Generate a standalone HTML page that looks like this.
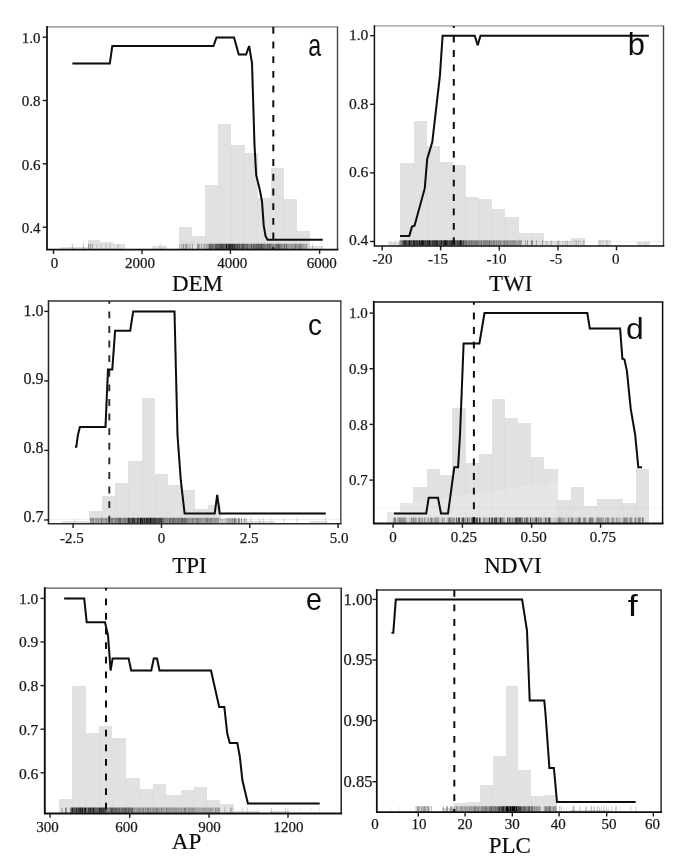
<!DOCTYPE html>
<html><head><meta charset="utf-8"><title>Figure</title>
<style>
html,body{margin:0;padding:0;background:#fff;}
body{width:685px;height:866px;overflow:hidden;}
svg{display:block;}
.tk text{font-family:"Liberation Serif","Times New Roman",serif;font-size:15px;fill:#1a1a1a;stroke:#1a1a1a;stroke-width:0.25px;}
.xl{font-family:"Liberation Serif","Times New Roman",serif;font-size:23px;fill:#111;stroke:#111;stroke-width:0.2px;}
.lt{font-family:"Liberation Sans",Arial,sans-serif;font-size:30px;fill:#111;}
</style></head><body>
<svg width="685" height="866" viewBox="0 0 685 866">
<defs><filter id="soft" x="0" y="0" width="100%" height="100%" filterUnits="userSpaceOnUse"><feGaussianBlur stdDeviation="0.45"/></filter></defs>
<rect width="685" height="866" fill="#fff"/>
<g filter="url(#soft)">
<g>
<g fill="#e1e1e1" shape-rendering="crispEdges">
<rect x="60.0" y="246.5" width="27.5" height="3.1"/>
<rect x="87.5" y="240.0" width="12.5" height="9.6"/>
<rect x="100.0" y="242.0" width="12.5" height="7.6"/>
<rect x="112.5" y="244.0" width="12.5" height="5.6"/>
<rect x="152.0" y="245.5" width="15.0" height="4.1"/>
<rect x="179.0" y="227.0" width="13.0" height="22.6"/>
<rect x="192.0" y="236.0" width="13.2" height="13.6"/>
<rect x="205.2" y="185.2" width="13.1" height="64.4"/>
<rect x="218.3" y="123.5" width="13.1" height="126.1"/>
<rect x="231.4" y="144.5" width="13.1" height="105.1"/>
<rect x="244.5" y="152.5" width="13.1" height="97.1"/>
<rect x="257.6" y="197.5" width="13.1" height="52.1"/>
<rect x="270.7" y="167.5" width="13.1" height="82.1"/>
<rect x="283.8" y="198.5" width="13.1" height="51.1"/>
<rect x="296.9" y="231.0" width="13.1" height="18.6"/>
<rect x="310.0" y="245.5" width="13.0" height="4.1"/>
</g>
<g stroke="#000" stroke-opacity="0.03" stroke-width="0.8">
<line x1="192.0" x2="192.0" y1="236.0" y2="249.6"/>
<line x1="205.2" x2="205.2" y1="236.0" y2="249.6"/>
<line x1="218.3" x2="218.3" y1="185.2" y2="249.6"/>
<line x1="231.4" x2="231.4" y1="144.5" y2="249.6"/>
<line x1="244.5" x2="244.5" y1="152.5" y2="249.6"/>
<line x1="257.6" x2="257.6" y1="197.5" y2="249.6"/>
<line x1="270.7" x2="270.7" y1="197.5" y2="249.6"/>
<line x1="283.8" x2="283.8" y1="198.5" y2="249.6"/>
<line x1="296.9" x2="296.9" y1="231.0" y2="249.6"/>
</g>
<g stroke="#000" stroke-width="1.05" fill="none"><path d="M182.5 243.8V248.9M184.5 243.8V248.9M188.5 243.8V248.9M200.5 243.8V248.9M202.5 243.8V248.9M309.5 243.8V248.9M321.5 243.8V248.9M163 243.8V248.9" stroke-opacity="0.08"/><path d="M179.5 243.8V248.9M187.5 243.8V248.9M189.5 243.8V248.9M190.5 243.8V248.9M203.5 243.8V248.9M205.5 243.8V248.9M307.5 243.8V248.9M312.5 243.8V248.9M97 243.8V248.9M101 243.8V248.9M106 243.8V248.9M110 243.8V248.9M118 243.8V248.9M160 243.8V248.9" stroke-opacity="0.17"/><path d="M181.5 243.8V248.9M185.5 243.8V248.9M192.5 243.8V248.9M199.5 243.8V248.9M201.5 243.8V248.9M204.5 243.8V248.9M206.5 243.8V248.9M207.5 243.8V248.9M289.5 243.8V248.9M293.5 243.8V248.9M303.5 243.8V248.9M304.5 243.8V248.9M305.5 243.8V248.9M306.5 243.8V248.9M72.3 243.8V248.9M83.4 243.8V248.9" stroke-opacity="0.25"/><path d="M183.5 243.8V248.9M186.5 243.8V248.9M197.5 243.8V248.9M198.5 243.8V248.9M208.5 243.8V248.9M274.5 243.8V248.9M282.5 243.8V248.9M283.5 243.8V248.9M285.5 243.8V248.9M287.5 243.8V248.9M288.5 243.8V248.9M290.5 243.8V248.9M291.5 243.8V248.9M292.5 243.8V248.9M296.5 243.8V248.9M297.5 243.8V248.9M298.5 243.8V248.9M301.5 243.8V248.9M302.5 243.8V248.9M88.5 243.8V248.9M90.3 243.8V248.9M92.4 243.8V248.9" stroke-opacity="0.33"/><path d="M211.5 243.8V248.9M213.5 243.8V248.9M214.5 243.8V248.9M240.5 243.8V248.9M248.5 243.8V248.9M249.5 243.8V248.9M250.5 243.8V248.9M252.5 243.8V248.9M265.5 243.8V248.9M266.5 243.8V248.9M268.5 243.8V248.9M271.5 243.8V248.9M272.5 243.8V248.9M273.5 243.8V248.9M275.5 243.8V248.9M280.5 243.8V248.9M281.5 243.8V248.9M294.5 243.8V248.9M295.5 243.8V248.9M299.5 243.8V248.9M300.5 243.8V248.9" stroke-opacity="0.42"/><path d="M209.5 243.8V248.9M238.5 243.8V248.9M244.5 243.8V248.9M245.5 243.8V248.9M246.5 243.8V248.9M254.5 243.8V248.9M255.5 243.8V248.9M257.5 243.8V248.9M260.5 243.8V248.9M262.5 243.8V248.9M263.5 243.8V248.9M264.5 243.8V248.9M270.5 243.8V248.9M276.5 243.8V248.9M277.5 243.8V248.9M279.5 243.8V248.9M284.5 243.8V248.9M286.5 243.8V248.9" stroke-opacity="0.50"/><path d="M210.5 243.8V248.9M212.5 243.8V248.9M215.5 243.8V248.9M216.5 243.8V248.9M217.5 243.8V248.9M218.5 243.8V248.9M219.5 243.8V248.9M221.5 243.8V248.9M223.5 243.8V248.9M224.5 243.8V248.9M225.5 243.8V248.9M227.5 243.8V248.9M233.5 243.8V248.9M235.5 243.8V248.9M236.5 243.8V248.9M241.5 243.8V248.9M242.5 243.8V248.9M247.5 243.8V248.9M251.5 243.8V248.9M253.5 243.8V248.9M256.5 243.8V248.9M258.5 243.8V248.9M259.5 243.8V248.9M267.5 243.8V248.9M269.5 243.8V248.9M278.5 243.8V248.9" stroke-opacity="0.58"/><path d="M220.5 243.8V248.9M237.5 243.8V248.9M239.5 243.8V248.9M243.5 243.8V248.9M261.5 243.8V248.9" stroke-opacity="0.67"/><path d="M222.5 243.8V248.9M228.5 243.8V248.9M230.5 243.8V248.9M231.5 243.8V248.9" stroke-opacity="0.75"/><path d="M229.5 243.8V248.9M232.5 243.8V248.9M234.5 243.8V248.9" stroke-opacity="0.83"/><path d="M226.5 243.8V248.9" stroke-opacity="0.92"/></g>
<line x1="47.0" x2="338.2" y1="26.8" y2="26.8" stroke="#888" stroke-width="1.3"/>
<line x1="337.5" x2="337.5" y1="26.8" y2="249.6" stroke="#444" stroke-width="1.4"/>
<line x1="273.3" x2="273.3" y1="26.8" y2="249.6" stroke="#111" stroke-width="2.0" stroke-dasharray="6.9 7.8" stroke-dashoffset="0"/>
<polyline fill="none" stroke="#0a0a0a" stroke-width="2.0" stroke-linejoin="miter" stroke-miterlimit="3" points="72.4,63.6 109.8,63.6 112.3,46.0 213.5,46.0 216.5,37.4 234.0,37.4 238.8,54.5 246.1,54.5 249.1,46.0 252.0,63.2 254.5,145.0 256.2,175.2 259.9,190.2 262.0,201.5 263.7,225.4 265.5,236.0 267.5,239.7 322.8,239.7"/>
<path d="M47.0 26.8V249.6H337.5" fill="none" stroke="#111" stroke-width="1.75" stroke-linecap="square"/>
<g stroke="#1a1a1a" stroke-width="1.4">
<line x1="42.7" x2="47.0" y1="37.2" y2="37.2"/>
<line x1="42.7" x2="47.0" y1="100.5" y2="100.5"/>
<line x1="42.7" x2="47.0" y1="163.8" y2="163.8"/>
<line x1="42.7" x2="47.0" y1="227.2" y2="227.2"/>
<line x1="53.5" x2="53.5" y1="249.6" y2="253.9"/>
<line x1="142.0" x2="142.0" y1="249.6" y2="253.9"/>
<line x1="230.4" x2="230.4" y1="249.6" y2="253.9"/>
<line x1="319.6" x2="319.6" y1="249.6" y2="253.9"/>
</g>
<g class="tk">
<text x="40.6" y="42.8" text-anchor="end" style="font-size:15px">1.0</text>
<text x="40.6" y="106.1" text-anchor="end" style="font-size:15px">0.8</text>
<text x="40.6" y="169.5" text-anchor="end" style="font-size:15px">0.6</text>
<text x="40.6" y="232.9" text-anchor="end" style="font-size:15px">0.4</text>
<text x="54.4" y="267.5" text-anchor="middle">0</text>
<text x="139.9" y="267.5" text-anchor="middle">2000</text>
<text x="232.2" y="267.5" text-anchor="middle">4000</text>
<text x="321.8" y="267.5" text-anchor="middle">6000</text>
</g>
<text class="xl" x="197.5" y="291.2" text-anchor="middle">DEM</text>
<text class="lt" transform="translate(308.14 55.60) scale(0.7733 1.0333)">a</text>
</g>
<g>
<g fill="#e1e1e1" shape-rendering="crispEdges">
<rect x="387.5" y="241.8" width="12.8" height="4.3"/>
<rect x="400.3" y="163.2" width="13.6" height="82.9"/>
<rect x="413.9" y="121.4" width="13.1" height="124.7"/>
<rect x="427.0" y="145.7" width="13.0" height="100.4"/>
<rect x="440.0" y="161.7" width="13.0" height="84.4"/>
<rect x="453.0" y="165.2" width="13.0" height="80.9"/>
<rect x="466.0" y="197.3" width="13.3" height="48.8"/>
<rect x="479.3" y="199.1" width="13.0" height="47.0"/>
<rect x="492.3" y="209.0" width="13.0" height="37.1"/>
<rect x="505.3" y="216.5" width="13.3" height="29.6"/>
<rect x="518.6" y="232.6" width="12.8" height="13.5"/>
<rect x="531.4" y="232.6" width="12.9" height="13.5"/>
<rect x="544.3" y="240.5" width="13.2" height="5.6"/>
<rect x="557.5" y="240.8" width="13.8" height="5.3"/>
<rect x="571.3" y="238.4" width="13.2" height="7.7"/>
<rect x="597.8" y="240.0" width="13.2" height="6.1"/>
<rect x="637.0" y="241.7" width="12.7" height="4.4"/>
</g>
<g stroke="#000" stroke-opacity="0.03" stroke-width="0.8">
<line x1="413.9" x2="413.9" y1="163.2" y2="246.1"/>
<line x1="427.0" x2="427.0" y1="145.7" y2="246.1"/>
<line x1="440.0" x2="440.0" y1="161.7" y2="246.1"/>
<line x1="453.0" x2="453.0" y1="165.2" y2="246.1"/>
<line x1="466.0" x2="466.0" y1="197.3" y2="246.1"/>
<line x1="479.3" x2="479.3" y1="199.1" y2="246.1"/>
<line x1="492.3" x2="492.3" y1="209.0" y2="246.1"/>
<line x1="505.3" x2="505.3" y1="216.5" y2="246.1"/>
<line x1="518.6" x2="518.6" y1="232.6" y2="246.1"/>
<line x1="531.4" x2="531.4" y1="232.6" y2="246.1"/>
<line x1="387.0" x2="663.0" y1="241.7" y2="241.7" stroke-opacity="0.09"/>
</g>
<g stroke="#000" stroke-width="1.05" fill="none"><path d="M550.5 240.3V245.4M559.5 240.3V245.4M562.5 240.3V245.4M570.5 240.3V245.4M572.5 240.3V245.4M574.5 240.3V245.4M575.5 240.3V245.4M580.5 240.3V245.4M584.5 240.3V245.4M391 240.3V245.4M395 240.3V245.4M603 240.3V245.4M640 240.3V245.4M645 240.3V245.4M648 240.3V245.4" stroke-opacity="0.08"/><path d="M546.5 240.3V245.4M551.5 240.3V245.4M557.5 240.3V245.4M558.5 240.3V245.4M565.5 240.3V245.4M567.5 240.3V245.4M576.5 240.3V245.4M578.5 240.3V245.4M583.5 240.3V245.4M600 240.3V245.4M607 240.3V245.4" stroke-opacity="0.17"/><path d="M399.5 240.3V245.4M482.5 240.3V245.4M492.5 240.3V245.4M495.5 240.3V245.4M497.5 240.3V245.4M499.5 240.3V245.4M501.5 240.3V245.4M502.5 240.3V245.4M505.5 240.3V245.4M508.5 240.3V245.4M516.5 240.3V245.4M517.5 240.3V245.4M518.5 240.3V245.4M521.5 240.3V245.4M525.5 240.3V245.4M536.5 240.3V245.4" stroke-opacity="0.25"/><path d="M400.5 240.3V245.4M467.5 240.3V245.4M470.5 240.3V245.4M474.5 240.3V245.4M479.5 240.3V245.4M480.5 240.3V245.4M488.5 240.3V245.4M490.5 240.3V245.4M503.5 240.3V245.4M506.5 240.3V245.4M509.5 240.3V245.4M510.5 240.3V245.4M511.5 240.3V245.4M512.5 240.3V245.4M513.5 240.3V245.4M514.5 240.3V245.4M515.5 240.3V245.4M519.5 240.3V245.4M520.5 240.3V245.4M527.5 240.3V245.4M532.5 240.3V245.4M542.5 240.3V245.4" stroke-opacity="0.33"/><path d="M401.5 240.3V245.4M464.5 240.3V245.4M468.5 240.3V245.4M472.5 240.3V245.4M473.5 240.3V245.4M476.5 240.3V245.4M477.5 240.3V245.4M478.5 240.3V245.4M483.5 240.3V245.4M484.5 240.3V245.4M485.5 240.3V245.4M486.5 240.3V245.4M487.5 240.3V245.4M491.5 240.3V245.4M493.5 240.3V245.4M494.5 240.3V245.4M496.5 240.3V245.4M498.5 240.3V245.4M500.5 240.3V245.4M504.5 240.3V245.4M507.5 240.3V245.4M531.5 240.3V245.4" stroke-opacity="0.42"/><path d="M402.5 240.3V245.4M462.5 240.3V245.4M465.5 240.3V245.4M466.5 240.3V245.4M469.5 240.3V245.4M471.5 240.3V245.4M475.5 240.3V245.4M481.5 240.3V245.4M489.5 240.3V245.4" stroke-opacity="0.50"/><path d="M407.5 240.3V245.4M412.5 240.3V245.4M418.5 240.3V245.4M426.5 240.3V245.4M431.5 240.3V245.4M438.5 240.3V245.4M442.5 240.3V245.4M448.5 240.3V245.4M455.5 240.3V245.4M456.5 240.3V245.4" stroke-opacity="0.58"/><path d="M403.5 240.3V245.4M406.5 240.3V245.4M408.5 240.3V245.4M410.5 240.3V245.4M411.5 240.3V245.4M415.5 240.3V245.4M420.5 240.3V245.4M424.5 240.3V245.4M430.5 240.3V245.4M439.5 240.3V245.4M440.5 240.3V245.4M450.5 240.3V245.4M453.5 240.3V245.4M457.5 240.3V245.4M458.5 240.3V245.4M459.5 240.3V245.4M463.5 240.3V245.4" stroke-opacity="0.67"/><path d="M405.5 240.3V245.4M416.5 240.3V245.4M417.5 240.3V245.4M425.5 240.3V245.4M428.5 240.3V245.4M432.5 240.3V245.4M433.5 240.3V245.4M434.5 240.3V245.4M435.5 240.3V245.4M443.5 240.3V245.4M447.5 240.3V245.4M449.5 240.3V245.4M461.5 240.3V245.4" stroke-opacity="0.75"/><path d="M404.5 240.3V245.4M413.5 240.3V245.4M414.5 240.3V245.4M421.5 240.3V245.4M423.5 240.3V245.4M427.5 240.3V245.4M436.5 240.3V245.4M437.5 240.3V245.4M441.5 240.3V245.4M444.5 240.3V245.4M446.5 240.3V245.4M451.5 240.3V245.4M452.5 240.3V245.4" stroke-opacity="0.83"/><path d="M409.5 240.3V245.4M419.5 240.3V245.4M422.5 240.3V245.4M429.5 240.3V245.4M445.5 240.3V245.4M454.5 240.3V245.4M460.5 240.3V245.4" stroke-opacity="0.92"/></g>
<line x1="374.4" x2="664.2" y1="25.9" y2="25.9" stroke="#999" stroke-width="1.4"/>
<line x1="663.5" x2="663.5" y1="25.9" y2="246.1" stroke="#444" stroke-width="1.4"/>
<line x1="453.8" x2="453.8" y1="25.9" y2="246.1" stroke="#111" stroke-width="2.0" stroke-dasharray="6.8 7.6" stroke-dashoffset="4.6"/>
<polyline fill="none" stroke="#0a0a0a" stroke-width="2.0" stroke-linejoin="miter" stroke-miterlimit="3" points="400.1,235.9 409.3,235.9 412.0,226.6 414.5,225.8 424.8,188.2 427.2,159.0 432.3,142.0 439.9,75.8 442.6,35.8 474.7,35.8 477.7,45.2 480.5,35.8 648.9,35.8"/>
<path d="M374.4 25.9V246.1H663.5" fill="none" stroke="#111" stroke-width="1.5" stroke-linecap="square"/>
<g stroke="#1a1a1a" stroke-width="1.4">
<line x1="370.1" x2="374.4" y1="35.7" y2="35.7"/>
<line x1="370.1" x2="374.4" y1="104.3" y2="104.3"/>
<line x1="370.1" x2="374.4" y1="172.9" y2="172.9"/>
<line x1="370.1" x2="374.4" y1="241.5" y2="241.5"/>
<line x1="382.2" x2="382.2" y1="246.1" y2="250.4"/>
<line x1="440.6" x2="440.6" y1="246.1" y2="250.4"/>
<line x1="499.3" x2="499.3" y1="246.1" y2="250.4"/>
<line x1="558.0" x2="558.0" y1="246.1" y2="250.4"/>
<line x1="616.5" x2="616.5" y1="246.1" y2="250.4"/>
</g>
<g class="tk">
<text x="368.4" y="39.9" text-anchor="end" style="font-size:15.6px">1.0</text>
<text x="368.4" y="108.9" text-anchor="end" style="font-size:15.6px">0.8</text>
<text x="368.4" y="177.3" text-anchor="end" style="font-size:15.6px">0.6</text>
<text x="368.4" y="245.2" text-anchor="end" style="font-size:15.6px">0.4</text>
<clipPath id="clb"><rect x="344.4" y="246.1" width="349.1" height="17.7"/></clipPath>
<g clip-path="url(#clb)">
<text x="382.6" y="264.4" text-anchor="middle">-20</text>
<text x="437.9" y="264.4" text-anchor="middle">-15</text>
<text x="496.4" y="264.4" text-anchor="middle">-10</text>
<text x="556.0" y="264.4" text-anchor="middle">-5</text>
<text x="615.8" y="264.4" text-anchor="middle">0</text>
</g>
</g>
<text class="xl" x="510.8" y="290.9" text-anchor="middle">TWI</text>
<text class="lt" transform="translate(627.74 55.00) scale(1.0300 1.0167)">b</text>
</g>
<g>
<g fill="#e1e1e1" shape-rendering="crispEdges">
<rect x="62.0" y="520.5" width="26.7" height="3.2"/>
<rect x="88.7" y="511.1" width="13.1" height="12.6"/>
<rect x="101.8" y="495.8" width="13.2" height="27.9"/>
<rect x="115.0" y="482.7" width="13.4" height="41.0"/>
<rect x="128.4" y="460.9" width="13.6" height="62.8"/>
<rect x="142.0" y="398.0" width="13.0" height="125.7"/>
<rect x="155.0" y="474.0" width="12.8" height="49.7"/>
<rect x="167.8" y="485.3" width="13.7" height="38.4"/>
<rect x="181.5" y="490.3" width="13.1" height="33.4"/>
<rect x="194.6" y="508.6" width="13.1" height="15.1"/>
<rect x="207.7" y="504.8" width="12.8" height="18.9"/>
<rect x="220.5" y="519.0" width="26.5" height="4.7"/>
<rect x="247.0" y="520.5" width="28.0" height="3.2"/>
<rect x="310.0" y="521.0" width="17.0" height="2.7"/>
</g>
<g stroke="#000" stroke-opacity="0.03" stroke-width="0.8">
<line x1="101.8" x2="101.8" y1="511.1" y2="523.7"/>
<line x1="115.0" x2="115.0" y1="495.8" y2="523.7"/>
<line x1="128.4" x2="128.4" y1="482.7" y2="523.7"/>
<line x1="142.0" x2="142.0" y1="460.9" y2="523.7"/>
<line x1="155.0" x2="155.0" y1="474.0" y2="523.7"/>
<line x1="167.8" x2="167.8" y1="485.3" y2="523.7"/>
<line x1="181.5" x2="181.5" y1="490.3" y2="523.7"/>
<line x1="194.6" x2="194.6" y1="508.6" y2="523.7"/>
<line x1="207.7" x2="207.7" y1="508.6" y2="523.7"/>
<line x1="49.0" x2="340.0" y1="519.6" y2="519.6" stroke-opacity="0.09"/>
</g>
<g stroke="#000" stroke-width="1.05" fill="none"><path d="M94.5 517.7V523M219.5 517.7V523M221.5 517.7V523M223.5 517.7V523M224.5 517.7V523M74.6 517.7V523M271.6 517.7V523" stroke-opacity="0.08"/><path d="M97.5 517.7V523M220.5 517.7V523M222.5 517.7V523M225.5 517.7V523M226.5 517.7V523M246.5 517.7V523M251 517.7V523M259.5 517.7V523M263 517.7V523M284 517.7V523M297.3 517.7V523M325.8 517.7V523" stroke-opacity="0.17"/><path d="M99.5 517.7V523M100.5 517.7V523M103.5 517.7V523M104.5 517.7V523M107.5 517.7V523M110.5 517.7V523M195.5 517.7V523M203.5 517.7V523M213.5 517.7V523M217.5 517.7V523M227.5 517.7V523M228.5 517.7V523M229.5 517.7V523M230.5 517.7V523M231.5 517.7V523M233.5 517.7V523M236.5 517.7V523" stroke-opacity="0.25"/><path d="M90.5 517.7V523M91.5 517.7V523M92.5 517.7V523M95.5 517.7V523M96.5 517.7V523M98.5 517.7V523M102.5 517.7V523M105.5 517.7V523M106.5 517.7V523M108.5 517.7V523M113.5 517.7V523M114.5 517.7V523M117.5 517.7V523M121.5 517.7V523M123.5 517.7V523M126.5 517.7V523M166.5 517.7V523M168.5 517.7V523M174.5 517.7V523M188.5 517.7V523M189.5 517.7V523M190.5 517.7V523M191.5 517.7V523M193.5 517.7V523M194.5 517.7V523M199.5 517.7V523M200.5 517.7V523M201.5 517.7V523M202.5 517.7V523M204.5 517.7V523M205.5 517.7V523M208.5 517.7V523M209.5 517.7V523M211.5 517.7V523M212.5 517.7V523M214.5 517.7V523M215.5 517.7V523M216.5 517.7V523M218.5 517.7V523M232.5 517.7V523M235.5 517.7V523M239.5 517.7V523M241.5 517.7V523M244.5 517.7V523" stroke-opacity="0.33"/><path d="M93.5 517.7V523M101.5 517.7V523M109.5 517.7V523M111.5 517.7V523M112.5 517.7V523M115.5 517.7V523M116.5 517.7V523M122.5 517.7V523M125.5 517.7V523M164.5 517.7V523M165.5 517.7V523M167.5 517.7V523M171.5 517.7V523M172.5 517.7V523M176.5 517.7V523M177.5 517.7V523M179.5 517.7V523M180.5 517.7V523M183.5 517.7V523M186.5 517.7V523M187.5 517.7V523M192.5 517.7V523M196.5 517.7V523M197.5 517.7V523M198.5 517.7V523M206.5 517.7V523M207.5 517.7V523M210.5 517.7V523M234.5 517.7V523M238.5 517.7V523" stroke-opacity="0.42"/><path d="M119.5 517.7V523M124.5 517.7V523M127.5 517.7V523M131.5 517.7V523M135.5 517.7V523M136.5 517.7V523M139.5 517.7V523M145.5 517.7V523M162.5 517.7V523M163.5 517.7V523M169.5 517.7V523M170.5 517.7V523M175.5 517.7V523M178.5 517.7V523M181.5 517.7V523M184.5 517.7V523M185.5 517.7V523" stroke-opacity="0.50"/><path d="M118.5 517.7V523M120.5 517.7V523M130.5 517.7V523M143.5 517.7V523M152.5 517.7V523M157.5 517.7V523M173.5 517.7V523M182.5 517.7V523" stroke-opacity="0.58"/><path d="M133.5 517.7V523M138.5 517.7V523M148.5 517.7V523M151.5 517.7V523M154.5 517.7V523M155.5 517.7V523M156.5 517.7V523M158.5 517.7V523M159.5 517.7V523M160.5 517.7V523" stroke-opacity="0.67"/><path d="M128.5 517.7V523M129.5 517.7V523M134.5 517.7V523M137.5 517.7V523M141.5 517.7V523M147.5 517.7V523M149.5 517.7V523M161.5 517.7V523" stroke-opacity="0.75"/><path d="M132.5 517.7V523M142.5 517.7V523M144.5 517.7V523M153.5 517.7V523" stroke-opacity="0.83"/><path d="M140.5 517.7V523M146.5 517.7V523M150.5 517.7V523" stroke-opacity="0.92"/></g>
<line x1="48.5" x2="341.5" y1="301.0" y2="301.0" stroke="#333" stroke-width="1.5"/>
<line x1="340.8" x2="340.8" y1="301.0" y2="523.7" stroke="#444" stroke-width="1.4"/>
<line x1="109.3" x2="109.3" y1="301.0" y2="523.7" stroke="#2a2a2a" stroke-width="1.9" stroke-dasharray="6.9 7.7" stroke-dashoffset="4.2"/>
<polyline fill="none" stroke="#0a0a0a" stroke-width="2.0" stroke-linejoin="miter" stroke-miterlimit="3" points="74.9,446.8 76.3,446.8 77.9,435.0 79.9,426.9 105.5,426.9 108.0,369.4 112.3,369.4 115.1,330.7 130.2,330.7 133.2,311.4 174.5,311.4 177.5,435.0 180.8,480.2 184.6,513.6 214.7,513.6 217.2,494.8 219.7,513.6 325.8,513.6"/>
<path d="M48.5 301.0V523.7H340.8" fill="none" stroke="#2c2c2c" stroke-width="1.6" stroke-linecap="square"/>
<g stroke="#1a1a1a" stroke-width="1.4">
<line x1="44.2" x2="48.5" y1="311.4" y2="311.4"/>
<line x1="44.2" x2="48.5" y1="380.9" y2="380.9"/>
<line x1="44.2" x2="48.5" y1="450.4" y2="450.4"/>
<line x1="44.2" x2="48.5" y1="520.0" y2="520.0"/>
<line x1="73.1" x2="73.1" y1="523.7" y2="528.0"/>
<line x1="161.5" x2="161.5" y1="523.7" y2="528.0"/>
<line x1="249.7" x2="249.7" y1="523.7" y2="528.0"/>
<line x1="338.1" x2="338.1" y1="523.7" y2="528.0"/>
</g>
<g class="tk">
<text x="43.6" y="316.2" text-anchor="end" style="font-size:16px">1.0</text>
<text x="43.6" y="384.4" text-anchor="end" style="font-size:16px">0.9</text>
<text x="43.6" y="452.9" text-anchor="end" style="font-size:16px">0.8</text>
<text x="43.6" y="521.8" text-anchor="end" style="font-size:16px">0.7</text>
<text x="71.9" y="543.2" text-anchor="middle">-2.5</text>
<text x="161.5" y="543.2" text-anchor="middle">0</text>
<text x="249.1" y="543.2" text-anchor="middle">2.5</text>
<text x="339.0" y="543.2" text-anchor="middle">5.0</text>
</g>
<text class="xl" x="189.4" y="572.7" text-anchor="middle">TPI</text>
<text class="lt" transform="translate(307.91 335.40) scale(0.9267 1.0067)">c</text>
</g>
<g>
<g fill="#e1e1e1" shape-rendering="crispEdges">
<rect x="387.0" y="511.6" width="13.3" height="11.9"/>
<rect x="400.3" y="502.8" width="13.1" height="20.7"/>
<rect x="413.4" y="487.3" width="13.3" height="36.2"/>
<rect x="426.7" y="469.0" width="13.0" height="54.5"/>
<rect x="439.7" y="475.2" width="12.6" height="48.3"/>
<rect x="452.3" y="407.6" width="13.3" height="115.9"/>
<rect x="465.6" y="463.1" width="13.1" height="60.4"/>
<rect x="478.7" y="453.8" width="12.8" height="69.7"/>
<rect x="491.5" y="398.8" width="13.5" height="124.7"/>
<rect x="505.0" y="417.7" width="13.3" height="105.8"/>
<rect x="518.3" y="423.0" width="13.1" height="100.5"/>
<rect x="531.4" y="457.2" width="12.9" height="66.3"/>
<rect x="544.3" y="469.1" width="13.2" height="54.4"/>
<rect x="557.5" y="499.9" width="13.1" height="23.6"/>
<rect x="570.6" y="487.3" width="13.1" height="36.2"/>
<rect x="583.7" y="505.7" width="12.9" height="17.8"/>
<rect x="596.6" y="499.4" width="26.5" height="24.1"/>
<rect x="623.1" y="502.7" width="13.1" height="20.8"/>
<rect x="636.2" y="468.6" width="12.9" height="54.9"/>
</g>
<g stroke="#000" stroke-opacity="0.03" stroke-width="0.8">
<line x1="413.4" x2="413.4" y1="502.8" y2="523.5"/>
<line x1="426.7" x2="426.7" y1="487.3" y2="523.5"/>
<line x1="439.7" x2="439.7" y1="475.2" y2="523.5"/>
<line x1="452.3" x2="452.3" y1="475.2" y2="523.5"/>
<line x1="465.6" x2="465.6" y1="463.1" y2="523.5"/>
<line x1="478.7" x2="478.7" y1="463.1" y2="523.5"/>
<line x1="491.5" x2="491.5" y1="453.8" y2="523.5"/>
<line x1="505.0" x2="505.0" y1="417.7" y2="523.5"/>
<line x1="518.3" x2="518.3" y1="423.0" y2="523.5"/>
<line x1="531.4" x2="531.4" y1="457.2" y2="523.5"/>
<line x1="544.3" x2="544.3" y1="469.1" y2="523.5"/>
<line x1="557.5" x2="557.5" y1="499.9" y2="523.5"/>
<line x1="570.6" x2="570.6" y1="499.9" y2="523.5"/>
<line x1="583.7" x2="583.7" y1="505.7" y2="523.5"/>
<line x1="596.6" x2="596.6" y1="505.7" y2="523.5"/>
<line x1="623.1" x2="623.1" y1="502.7" y2="523.5"/>
<line x1="636.2" x2="636.2" y1="502.7" y2="523.5"/>
</g>
<line x1="374" x2="663" y1="507.6" y2="507.6" stroke="#000" stroke-opacity="0.06" stroke-width="0.8"/>
<polygon points="374,508 557.5,481.5 557.5,523 374,523" fill="#fff" fill-opacity="0.18"/>
<g stroke="#000" stroke-width="1.05" fill="none"><path d="M396.5 517.5V522.8M407.5 517.5V522.8M408.5 517.5V522.8M410.5 517.5V522.8M423.5 517.5V522.8M426.5 517.5V522.8M429.5 517.5V522.8M439.5 517.5V522.8M440.5 517.5V522.8M446.5 517.5V522.8M455.5 517.5V522.8M460.5 517.5V522.8M481.5 517.5V522.8M482.5 517.5V522.8M490.5 517.5V522.8M505.5 517.5V522.8M506.5 517.5V522.8M523.5 517.5V522.8M529.5 517.5V522.8M551.5 517.5V522.8M552.5 517.5V522.8M553.5 517.5V522.8M555.5 517.5V522.8M566.5 517.5V522.8M569.5 517.5V522.8M582.5 517.5V522.8M594.5 517.5V522.8M595.5 517.5V522.8M604.5 517.5V522.8M610.5 517.5V522.8M614.5 517.5V522.8M615.5 517.5V522.8M619.5 517.5V522.8M641.5 517.5V522.8" stroke-opacity="0.08"/><path d="M406.5 517.5V522.8M409.5 517.5V522.8M425.5 517.5V522.8M427.5 517.5V522.8M433.5 517.5V522.8M441.5 517.5V522.8M443.5 517.5V522.8M447.5 517.5V522.8M457.5 517.5V522.8M466.5 517.5V522.8M468.5 517.5V522.8M470.5 517.5V522.8M473.5 517.5V522.8M478.5 517.5V522.8M486.5 517.5V522.8M493.5 517.5V522.8M513.5 517.5V522.8M531.5 517.5V522.8M542.5 517.5V522.8M543.5 517.5V522.8M544.5 517.5V522.8M547.5 517.5V522.8M554.5 517.5V522.8M556.5 517.5V522.8M557.5 517.5V522.8M564.5 517.5V522.8M565.5 517.5V522.8M567.5 517.5V522.8M573.5 517.5V522.8M574.5 517.5V522.8M575.5 517.5V522.8M576.5 517.5V522.8M588.5 517.5V522.8M593.5 517.5V522.8M606.5 517.5V522.8M609.5 517.5V522.8M611.5 517.5V522.8M618.5 517.5V522.8M622.5 517.5V522.8M628.5 517.5V522.8M629.5 517.5V522.8M632.5 517.5V522.8M636.5 517.5V522.8M637.5 517.5V522.8" stroke-opacity="0.17"/><path d="M393.5 517.5V522.8M397.5 517.5V522.8M398.5 517.5V522.8M402.5 517.5V522.8M412.5 517.5V522.8M416.5 517.5V522.8M420.5 517.5V522.8M421.5 517.5V522.8M432.5 517.5V522.8M434.5 517.5V522.8M437.5 517.5V522.8M444.5 517.5V522.8M451.5 517.5V522.8M465.5 517.5V522.8M485.5 517.5V522.8M487.5 517.5V522.8M488.5 517.5V522.8M497.5 517.5V522.8M504.5 517.5V522.8M508.5 517.5V522.8M510.5 517.5V522.8M511.5 517.5V522.8M528.5 517.5V522.8M533.5 517.5V522.8M534.5 517.5V522.8M537.5 517.5V522.8M539.5 517.5V522.8M561.5 517.5V522.8M562.5 517.5V522.8M563.5 517.5V522.8M570.5 517.5V522.8M577.5 517.5V522.8M585.5 517.5V522.8M586.5 517.5V522.8M596.5 517.5V522.8M602.5 517.5V522.8M603.5 517.5V522.8M616.5 517.5V522.8M617.5 517.5V522.8M620.5 517.5V522.8M623.5 517.5V522.8M627.5 517.5V522.8M634.5 517.5V522.8M640.5 517.5V522.8M643.5 517.5V522.8" stroke-opacity="0.25"/><path d="M400.5 517.5V522.8M404.5 517.5V522.8M405.5 517.5V522.8M413.5 517.5V522.8M414.5 517.5V522.8M415.5 517.5V522.8M418.5 517.5V522.8M419.5 517.5V522.8M422.5 517.5V522.8M424.5 517.5V522.8M428.5 517.5V522.8M430.5 517.5V522.8M435.5 517.5V522.8M436.5 517.5V522.8M438.5 517.5V522.8M442.5 517.5V522.8M452.5 517.5V522.8M453.5 517.5V522.8M454.5 517.5V522.8M461.5 517.5V522.8M464.5 517.5V522.8M484.5 517.5V522.8M498.5 517.5V522.8M499.5 517.5V522.8M502.5 517.5V522.8M503.5 517.5V522.8M514.5 517.5V522.8M525.5 517.5V522.8M532.5 517.5V522.8M541.5 517.5V522.8M546.5 517.5V522.8M550.5 517.5V522.8M558.5 517.5V522.8M560.5 517.5V522.8M571.5 517.5V522.8M583.5 517.5V522.8M597.5 517.5V522.8M599.5 517.5V522.8M600.5 517.5V522.8M601.5 517.5V522.8M605.5 517.5V522.8M608.5 517.5V522.8M612.5 517.5V522.8M613.5 517.5V522.8M625.5 517.5V522.8M631.5 517.5V522.8M635.5 517.5V522.8M638.5 517.5V522.8" stroke-opacity="0.33"/><path d="M394.5 517.5V522.8M395.5 517.5V522.8M399.5 517.5V522.8M401.5 517.5V522.8M403.5 517.5V522.8M411.5 517.5V522.8M431.5 517.5V522.8M448.5 517.5V522.8M449.5 517.5V522.8M450.5 517.5V522.8M469.5 517.5V522.8M471.5 517.5V522.8M475.5 517.5V522.8M480.5 517.5V522.8M483.5 517.5V522.8M512.5 517.5V522.8M521.5 517.5V522.8M540.5 517.5V522.8M559.5 517.5V522.8M572.5 517.5V522.8M578.5 517.5V522.8M579.5 517.5V522.8M580.5 517.5V522.8M584.5 517.5V522.8M589.5 517.5V522.8M590.5 517.5V522.8M591.5 517.5V522.8M592.5 517.5V522.8M598.5 517.5V522.8M607.5 517.5V522.8M624.5 517.5V522.8M626.5 517.5V522.8M630.5 517.5V522.8M639.5 517.5V522.8" stroke-opacity="0.42"/><path d="M477.5 517.5V522.8M501.5 517.5V522.8M518.5 517.5V522.8M522.5 517.5V522.8M524.5 517.5V522.8M527.5 517.5V522.8M535.5 517.5V522.8M538.5 517.5V522.8M568.5 517.5V522.8M642.5 517.5V522.8" stroke-opacity="0.50"/><path d="M456.5 517.5V522.8M462.5 517.5V522.8M474.5 517.5V522.8M491.5 517.5V522.8M495.5 517.5V522.8M507.5 517.5V522.8M517.5 517.5V522.8M526.5 517.5V522.8M545.5 517.5V522.8M548.5 517.5V522.8" stroke-opacity="0.58"/><path d="M458.5 517.5V522.8M459.5 517.5V522.8M463.5 517.5V522.8M467.5 517.5V522.8M472.5 517.5V522.8M476.5 517.5V522.8M479.5 517.5V522.8M489.5 517.5V522.8M492.5 517.5V522.8M494.5 517.5V522.8M496.5 517.5V522.8M509.5 517.5V522.8M515.5 517.5V522.8M516.5 517.5V522.8M519.5 517.5V522.8M520.5 517.5V522.8M530.5 517.5V522.8M536.5 517.5V522.8M549.5 517.5V522.8" stroke-opacity="0.67"/><path d="M500.5 517.5V522.8" stroke-opacity="0.75"/></g>
<line x1="373.8" x2="663.4" y1="302.0" y2="302.0" stroke="#111" stroke-width="1.6"/>
<line x1="662.6" x2="662.6" y1="302.0" y2="523.5" stroke="#111" stroke-width="1.5"/>
<line x1="473.9" x2="473.9" y1="302.0" y2="523.5" stroke="#111" stroke-width="2.0" stroke-dasharray="6.9 7.7" stroke-dashoffset="4.1"/>
<polyline fill="none" stroke="#0a0a0a" stroke-width="2.0" stroke-linejoin="miter" stroke-miterlimit="3" points="394.0,513.6 426.2,513.6 428.7,497.8 438.0,497.8 441.0,513.6 448.0,513.6 454.3,467.2 458.1,467.2 460.0,435.0 463.6,343.5 479.4,343.5 484.5,313.1 587.3,313.1 589.8,328.4 620.1,328.4 622.4,358.7 624.4,359.4 626.9,370.8 630.7,408.7 635.2,435.0 638.3,467.3 642.0,467.3"/>
<path d="M373.8 302.0V523.5H662.6" fill="none" stroke="#111" stroke-width="1.85" stroke-linecap="square"/>
<g stroke="#1a1a1a" stroke-width="1.4">
<line x1="369.5" x2="373.8" y1="313.1" y2="313.1"/>
<line x1="369.5" x2="373.8" y1="368.7" y2="368.7"/>
<line x1="369.5" x2="373.8" y1="424.4" y2="424.4"/>
<line x1="369.5" x2="373.8" y1="480.1" y2="480.1"/>
<line x1="393.1" x2="393.1" y1="523.5" y2="527.8"/>
<line x1="462.4" x2="462.4" y1="523.5" y2="527.8"/>
<line x1="531.6" x2="531.6" y1="523.5" y2="527.8"/>
<line x1="600.6" x2="600.6" y1="523.5" y2="527.8"/>
</g>
<g class="tk">
<text x="367.8" y="317.9" text-anchor="end" style="font-size:15px">1.0</text>
<text x="367.8" y="373.6" text-anchor="end" style="font-size:15px">0.9</text>
<text x="367.8" y="429.6" text-anchor="end" style="font-size:15px">0.8</text>
<text x="367.8" y="485.0" text-anchor="end" style="font-size:15px">0.7</text>
<text x="392.9" y="541.9" text-anchor="middle">0</text>
<text x="463.8" y="541.9" text-anchor="middle">0.25</text>
<text x="533.7" y="541.9" text-anchor="middle">0.50</text>
<text x="602.8" y="541.9" text-anchor="middle">0.75</text>
</g>
<text class="xl" x="513.0" y="572.6" text-anchor="middle">NDVI</text>
<text class="lt" transform="translate(625.90 339.00) scale(1.0633 1.0133)">d</text>
</g>
<g>
<g fill="#e1e1e1" shape-rendering="crispEdges">
<rect x="59.0" y="799.2" width="13.4" height="14.3"/>
<rect x="72.4" y="686.0" width="13.5" height="127.5"/>
<rect x="85.9" y="732.6" width="13.3" height="80.9"/>
<rect x="99.2" y="725.6" width="13.1" height="87.9"/>
<rect x="112.3" y="737.6" width="13.8" height="75.9"/>
<rect x="126.1" y="778.3" width="13.6" height="35.2"/>
<rect x="139.7" y="788.6" width="13.1" height="24.9"/>
<rect x="152.8" y="783.6" width="13.0" height="29.9"/>
<rect x="165.8" y="794.5" width="15.0" height="19.0"/>
<rect x="180.8" y="790.4" width="13.3" height="23.1"/>
<rect x="194.1" y="787.4" width="13.1" height="26.1"/>
<rect x="207.2" y="799.7" width="13.0" height="13.8"/>
<rect x="220.2" y="804.2" width="13.4" height="9.3"/>
<rect x="233.6" y="810.5" width="26.4" height="3.0"/>
<rect x="270.0" y="811.0" width="20.0" height="2.5"/>
</g>
<g stroke="#000" stroke-opacity="0.03" stroke-width="0.8">
<line x1="72.4" x2="72.4" y1="799.2" y2="813.5"/>
<line x1="85.9" x2="85.9" y1="732.6" y2="813.5"/>
<line x1="99.2" x2="99.2" y1="732.6" y2="813.5"/>
<line x1="112.3" x2="112.3" y1="737.6" y2="813.5"/>
<line x1="126.1" x2="126.1" y1="778.3" y2="813.5"/>
<line x1="139.7" x2="139.7" y1="788.6" y2="813.5"/>
<line x1="152.8" x2="152.8" y1="788.6" y2="813.5"/>
<line x1="165.8" x2="165.8" y1="794.5" y2="813.5"/>
<line x1="180.8" x2="180.8" y1="794.5" y2="813.5"/>
<line x1="194.1" x2="194.1" y1="790.4" y2="813.5"/>
<line x1="207.2" x2="207.2" y1="799.7" y2="813.5"/>
</g>
<g stroke="#000" stroke-width="1.05" fill="none"><path d="M257.4 807.5V812.8M299.5 807.5V812.8M311.2 807.5V812.8M319.3 807.5V812.8" stroke-opacity="0.08"/><path d="M61.5 807.5V812.8M62.5 807.5V812.8M213.5 807.5V812.8M214.5 807.5V812.8M224.7 807.5V812.8M242.2 807.5V812.8M247.6 807.5V812.8M271.4 807.5V812.8M285.5 807.5V812.8M287.8 807.5V812.8" stroke-opacity="0.17"/><path d="M135.5 807.5V812.8M140.5 807.5V812.8M144.5 807.5V812.8M149.5 807.5V812.8M151.5 807.5V812.8M158.5 807.5V812.8M160.5 807.5V812.8M162.5 807.5V812.8M164.5 807.5V812.8M165.5 807.5V812.8M172.5 807.5V812.8M177.5 807.5V812.8M179.5 807.5V812.8M180.5 807.5V812.8M182.5 807.5V812.8M183.5 807.5V812.8M186.5 807.5V812.8M187.5 807.5V812.8M190.5 807.5V812.8M195.5 807.5V812.8M196.5 807.5V812.8M197.5 807.5V812.8M198.5 807.5V812.8M199.5 807.5V812.8M200.5 807.5V812.8M201.5 807.5V812.8M202.5 807.5V812.8M203.5 807.5V812.8M205.5 807.5V812.8M206.5 807.5V812.8M207.5 807.5V812.8M208.5 807.5V812.8M209.5 807.5V812.8M211.5 807.5V812.8M212.5 807.5V812.8M216.5 807.5V812.8M217.5 807.5V812.8M218.5 807.5V812.8M230.6 807.5V812.8M231.9 807.5V812.8" stroke-opacity="0.25"/><path d="M66.5 807.5V812.8M133.5 807.5V812.8M134.5 807.5V812.8M136.5 807.5V812.8M137.5 807.5V812.8M138.5 807.5V812.8M141.5 807.5V812.8M142.5 807.5V812.8M145.5 807.5V812.8M146.5 807.5V812.8M152.5 807.5V812.8M153.5 807.5V812.8M154.5 807.5V812.8M155.5 807.5V812.8M159.5 807.5V812.8M163.5 807.5V812.8M167.5 807.5V812.8M168.5 807.5V812.8M169.5 807.5V812.8M170.5 807.5V812.8M171.5 807.5V812.8M173.5 807.5V812.8M174.5 807.5V812.8M175.5 807.5V812.8M176.5 807.5V812.8M178.5 807.5V812.8M181.5 807.5V812.8M188.5 807.5V812.8M189.5 807.5V812.8M191.5 807.5V812.8M192.5 807.5V812.8M193.5 807.5V812.8M194.5 807.5V812.8M204.5 807.5V812.8M210.5 807.5V812.8M215.5 807.5V812.8M219.5 807.5V812.8" stroke-opacity="0.33"/><path d="M65.5 807.5V812.8M70.5 807.5V812.8M107.5 807.5V812.8M108.5 807.5V812.8M109.5 807.5V812.8M118.5 807.5V812.8M120.5 807.5V812.8M127.5 807.5V812.8M139.5 807.5V812.8M143.5 807.5V812.8M147.5 807.5V812.8M148.5 807.5V812.8M150.5 807.5V812.8M156.5 807.5V812.8M157.5 807.5V812.8M161.5 807.5V812.8M166.5 807.5V812.8M184.5 807.5V812.8M185.5 807.5V812.8" stroke-opacity="0.42"/><path d="M83.5 807.5V812.8M86.5 807.5V812.8M87.5 807.5V812.8M106.5 807.5V812.8M110.5 807.5V812.8M114.5 807.5V812.8M116.5 807.5V812.8M121.5 807.5V812.8M122.5 807.5V812.8M123.5 807.5V812.8M125.5 807.5V812.8M129.5 807.5V812.8M130.5 807.5V812.8M131.5 807.5V812.8" stroke-opacity="0.50"/><path d="M71.5 807.5V812.8M73.5 807.5V812.8M75.5 807.5V812.8M77.5 807.5V812.8M91.5 807.5V812.8M95.5 807.5V812.8M96.5 807.5V812.8M97.5 807.5V812.8M98.5 807.5V812.8M112.5 807.5V812.8M113.5 807.5V812.8M115.5 807.5V812.8M117.5 807.5V812.8M119.5 807.5V812.8M124.5 807.5V812.8M126.5 807.5V812.8M128.5 807.5V812.8M132.5 807.5V812.8" stroke-opacity="0.58"/><path d="M74.5 807.5V812.8M81.5 807.5V812.8M89.5 807.5V812.8M92.5 807.5V812.8M94.5 807.5V812.8M102.5 807.5V812.8M104.5 807.5V812.8M105.5 807.5V812.8M111.5 807.5V812.8" stroke-opacity="0.67"/><path d="M78.5 807.5V812.8M79.5 807.5V812.8M84.5 807.5V812.8M88.5 807.5V812.8M100.5 807.5V812.8M101.5 807.5V812.8M103.5 807.5V812.8" stroke-opacity="0.75"/><path d="M72.5 807.5V812.8M76.5 807.5V812.8M80.5 807.5V812.8M90.5 807.5V812.8M93.5 807.5V812.8M99.5 807.5V812.8" stroke-opacity="0.83"/><path d="M82.5 807.5V812.8M85.5 807.5V812.8" stroke-opacity="0.92"/></g>
<line x1="44.8" x2="341.9" y1="588.1" y2="588.1" stroke="#555" stroke-width="1.3"/>
<line x1="341.2" x2="341.2" y1="588.1" y2="813.5" stroke="#222" stroke-width="1.5"/>
<line x1="106.0" x2="106.0" y1="588.1" y2="813.5" stroke="#111" stroke-width="2.0" stroke-dasharray="6.8 7.8" stroke-dashoffset="4.3"/>
<polyline fill="none" stroke="#0a0a0a" stroke-width="2.0" stroke-linejoin="miter" stroke-miterlimit="3" points="64.1,598.4 84.2,598.4 86.7,622.3 105.0,622.3 108.0,635.3 110.6,670.5 112.6,658.4 128.6,658.4 131.2,670.5 151.3,670.5 153.8,658.4 157.0,658.4 159.5,670.5 211.0,670.5 219.2,706.9 224.3,706.9 227.3,733.8 229.8,743.1 237.3,743.1 239.8,756.5 242.4,780.3 247.9,803.4 319.7,803.4"/>
<path d="M44.8 588.1V813.5H341.2" fill="none" stroke="#111" stroke-width="1.9" stroke-linecap="square"/>
<g stroke="#1a1a1a" stroke-width="1.4">
<line x1="40.5" x2="44.8" y1="598.4" y2="598.4"/>
<line x1="40.5" x2="44.8" y1="642.0" y2="642.0"/>
<line x1="40.5" x2="44.8" y1="685.6" y2="685.6"/>
<line x1="40.5" x2="44.8" y1="729.2" y2="729.2"/>
<line x1="40.5" x2="44.8" y1="772.8" y2="772.8"/>
<line x1="50.1" x2="50.1" y1="813.5" y2="817.8"/>
<line x1="129.7" x2="129.7" y1="813.5" y2="817.8"/>
<line x1="209.0" x2="209.0" y1="813.5" y2="817.8"/>
<line x1="288.0" x2="288.0" y1="813.5" y2="817.8"/>
</g>
<g class="tk">
<text x="38.4" y="603.7" text-anchor="end" style="font-size:15.6px">1.0</text>
<text x="38.4" y="647.1" text-anchor="end" style="font-size:15.6px">0.9</text>
<text x="38.4" y="691.3" text-anchor="end" style="font-size:15.6px">0.8</text>
<text x="38.4" y="735.2" text-anchor="end" style="font-size:15.6px">0.7</text>
<text x="38.4" y="779.0" text-anchor="end" style="font-size:15.6px">0.6</text>
<text x="47.5" y="832.2" text-anchor="middle">300</text>
<text x="126.6" y="832.2" text-anchor="middle">600</text>
<text x="209.6" y="832.2" text-anchor="middle">900</text>
<text x="288.6" y="832.2" text-anchor="middle">1200</text>
</g>
<text class="xl" x="186.5" y="848.7" text-anchor="middle">AP</text>
<text class="lt" transform="translate(306.06 610.10) scale(0.9567 1.0267)">e</text>
</g>
<g>
<g fill="#e1e1e1" shape-rendering="crispEdges">
<rect x="415.4" y="806.0" width="13.8" height="6.2"/>
<rect x="441.5" y="807.5" width="12.8" height="4.7"/>
<rect x="454.3" y="803.4" width="12.6" height="8.8"/>
<rect x="466.9" y="802.2" width="13.1" height="10.0"/>
<rect x="480.0" y="785.4" width="12.8" height="26.8"/>
<rect x="492.8" y="755.7" width="13.0" height="56.5"/>
<rect x="505.8" y="686.3" width="12.5" height="125.9"/>
<rect x="518.3" y="770.0" width="13.1" height="42.2"/>
<rect x="531.4" y="796.3" width="12.9" height="15.9"/>
<rect x="544.3" y="794.5" width="12.7" height="17.7"/>
<rect x="570.0" y="809.5" width="40.0" height="2.7"/>
</g>
<g stroke="#000" stroke-opacity="0.03" stroke-width="0.8">
<line x1="492.8" x2="492.8" y1="785.4" y2="812.2"/>
<line x1="505.8" x2="505.8" y1="755.7" y2="812.2"/>
<line x1="518.3" x2="518.3" y1="770.0" y2="812.2"/>
<line x1="531.4" x2="531.4" y1="796.3" y2="812.2"/>
<line x1="544.3" x2="544.3" y1="796.3" y2="812.2"/>
</g>
<g stroke="#000" stroke-width="1.05" fill="none"><path d="M416.5 806.2V811.5M420.5 806.2V811.5M426.5 806.2V811.5M430.5 806.2V811.5M543.5 806.2V811.5M560.5 806.2V811.5M563.5 806.2V811.5M566.5 806.2V811.5M569.5 806.2V811.5M579.5 806.2V811.5M590.5 806.2V811.5M604.5 806.2V811.5M608.5 806.2V811.5M620.5 806.2V811.5M390 806.2V811.5M399 806.2V811.5" stroke-opacity="0.08"/><path d="M419.5 806.2V811.5M422.5 806.2V811.5M429.5 806.2V811.5M453.5 806.2V811.5M454.5 806.2V811.5M455.5 806.2V811.5M458.5 806.2V811.5M459.5 806.2V811.5M463.5 806.2V811.5M556.5 806.2V811.5M559.5 806.2V811.5M561.5 806.2V811.5M572.5 806.2V811.5M574.5 806.2V811.5M580.5 806.2V811.5M585.5 806.2V811.5M586.5 806.2V811.5M593.5 806.2V811.5M594.5 806.2V811.5M599.5 806.2V811.5M601.5 806.2V811.5M603.5 806.2V811.5M606.5 806.2V811.5M611.5 806.2V811.5M615.5 806.2V811.5M616.5 806.2V811.5M631 806.2V811.5M636 806.2V811.5" stroke-opacity="0.17"/><path d="M417.5 806.2V811.5M421.5 806.2V811.5M423.5 806.2V811.5M425.5 806.2V811.5M427.5 806.2V811.5M431.5 806.2V811.5M451.5 806.2V811.5M452.5 806.2V811.5M457.5 806.2V811.5M460.5 806.2V811.5M464.5 806.2V811.5M466.5 806.2V811.5M467.5 806.2V811.5M468.5 806.2V811.5M470.5 806.2V811.5M472.5 806.2V811.5M477.5 806.2V811.5M479.5 806.2V811.5M480.5 806.2V811.5M533.5 806.2V811.5M535.5 806.2V811.5M539.5 806.2V811.5M540.5 806.2V811.5M544.5 806.2V811.5M551.5 806.2V811.5M552.5 806.2V811.5M573.5 806.2V811.5M591.5 806.2V811.5M597.5 806.2V811.5" stroke-opacity="0.25"/><path d="M418.5 806.2V811.5M424.5 806.2V811.5M428.5 806.2V811.5M443.5 806.2V811.5M446.5 806.2V811.5M447.5 806.2V811.5M456.5 806.2V811.5M461.5 806.2V811.5M462.5 806.2V811.5M465.5 806.2V811.5M469.5 806.2V811.5M471.5 806.2V811.5M473.5 806.2V811.5M476.5 806.2V811.5M482.5 806.2V811.5M484.5 806.2V811.5M487.5 806.2V811.5M488.5 806.2V811.5M492.5 806.2V811.5M530.5 806.2V811.5M536.5 806.2V811.5M537.5 806.2V811.5M538.5 806.2V811.5M547.5 806.2V811.5M548.5 806.2V811.5M550.5 806.2V811.5M553.5 806.2V811.5M554.5 806.2V811.5M555.5 806.2V811.5" stroke-opacity="0.33"/><path d="M450.5 806.2V811.5M474.5 806.2V811.5M475.5 806.2V811.5M478.5 806.2V811.5M481.5 806.2V811.5M483.5 806.2V811.5M486.5 806.2V811.5M489.5 806.2V811.5M494.5 806.2V811.5M496.5 806.2V811.5M526.5 806.2V811.5M527.5 806.2V811.5M534.5 806.2V811.5M545.5 806.2V811.5M546.5 806.2V811.5" stroke-opacity="0.42"/><path d="M485.5 806.2V811.5M490.5 806.2V811.5M493.5 806.2V811.5M495.5 806.2V811.5M497.5 806.2V811.5M500.5 806.2V811.5M521.5 806.2V811.5M522.5 806.2V811.5M523.5 806.2V811.5M525.5 806.2V811.5M531.5 806.2V811.5M532.5 806.2V811.5" stroke-opacity="0.50"/><path d="M491.5 806.2V811.5M498.5 806.2V811.5M504.5 806.2V811.5M505.5 806.2V811.5M524.5 806.2V811.5M528.5 806.2V811.5M529.5 806.2V811.5M549.5 806.2V811.5" stroke-opacity="0.58"/><path d="M501.5 806.2V811.5M509.5 806.2V811.5M515.5 806.2V811.5M517.5 806.2V811.5M518.5 806.2V811.5" stroke-opacity="0.67"/><path d="M499.5 806.2V811.5M502.5 806.2V811.5M511.5 806.2V811.5M519.5 806.2V811.5M520.5 806.2V811.5" stroke-opacity="0.75"/><path d="M503.5 806.2V811.5M508.5 806.2V811.5" stroke-opacity="0.83"/><path d="M513.5 806.2V811.5" stroke-opacity="0.92"/><path d="M506.5 806.2V811.5M507.5 806.2V811.5M510.5 806.2V811.5M512.5 806.2V811.5M514.5 806.2V811.5M516.5 806.2V811.5" stroke-opacity="1.00"/></g>
<line x1="376.8" x2="661.8" y1="589.9" y2="589.9" stroke="#333" stroke-width="1.5"/>
<line x1="661.1" x2="661.1" y1="589.9" y2="812.2" stroke="#222" stroke-width="1.4"/>
<line x1="454.3" x2="454.3" y1="589.9" y2="812.2" stroke="#111" stroke-width="2.0" stroke-dasharray="6.8 7.8" stroke-dashoffset="0"/>
<polyline fill="none" stroke="#0a0a0a" stroke-width="2.0" stroke-linejoin="miter" stroke-miterlimit="3" points="391.5,632.8 393.3,632.8 395.8,599.4 522.1,599.4 527.0,630.5 529.7,700.6 544.3,700.6 545.6,715.0 549.4,768.0 553.9,768.0 557.0,802.1 635.7,802.1"/>
<path d="M376.8 589.9V812.2H661.1" fill="none" stroke="#111" stroke-width="1.75" stroke-linecap="square"/>
<g stroke="#1a1a1a" stroke-width="1.4">
<line x1="372.5" x2="376.8" y1="599.4" y2="599.4"/>
<line x1="372.5" x2="376.8" y1="660.0" y2="660.0"/>
<line x1="372.5" x2="376.8" y1="720.6" y2="720.6"/>
<line x1="372.5" x2="376.8" y1="781.7" y2="781.7"/>
<line x1="418.3" x2="418.3" y1="812.2" y2="816.5"/>
<line x1="465.1" x2="465.1" y1="812.2" y2="816.5"/>
<line x1="512.3" x2="512.3" y1="812.2" y2="816.5"/>
<line x1="559.1" x2="559.1" y1="812.2" y2="816.5"/>
<line x1="606.7" x2="606.7" y1="812.2" y2="816.5"/>
<line x1="653.3" x2="653.3" y1="812.2" y2="816.5"/>
</g>
<g class="tk">
<text x="372.4" y="605.0" text-anchor="end" style="font-size:16.5px">1.00</text>
<text x="372.4" y="665.2" text-anchor="end" style="font-size:16.5px">0.95</text>
<text x="372.4" y="725.9" text-anchor="end" style="font-size:16.5px">0.90</text>
<text x="372.4" y="786.7" text-anchor="end" style="font-size:16.5px">0.85</text>
<text x="375.0" y="829.3" text-anchor="middle">0</text>
<text x="419.1" y="829.3" text-anchor="middle">10</text>
<text x="465.1" y="829.3" text-anchor="middle">20</text>
<text x="512.2" y="829.3" text-anchor="middle">30</text>
<text x="558.3" y="829.3" text-anchor="middle">40</text>
<text x="609.0" y="829.3" text-anchor="middle">50</text>
<text x="652.6" y="829.3" text-anchor="middle">60</text>
</g>
<text class="xl" x="509.8" y="853.2" text-anchor="middle">PLC</text>
<text class="lt" transform="translate(627.70 615.60) scale(1.2000 1.0000)">f</text>
</g>
</g>
</svg>
</body></html>
